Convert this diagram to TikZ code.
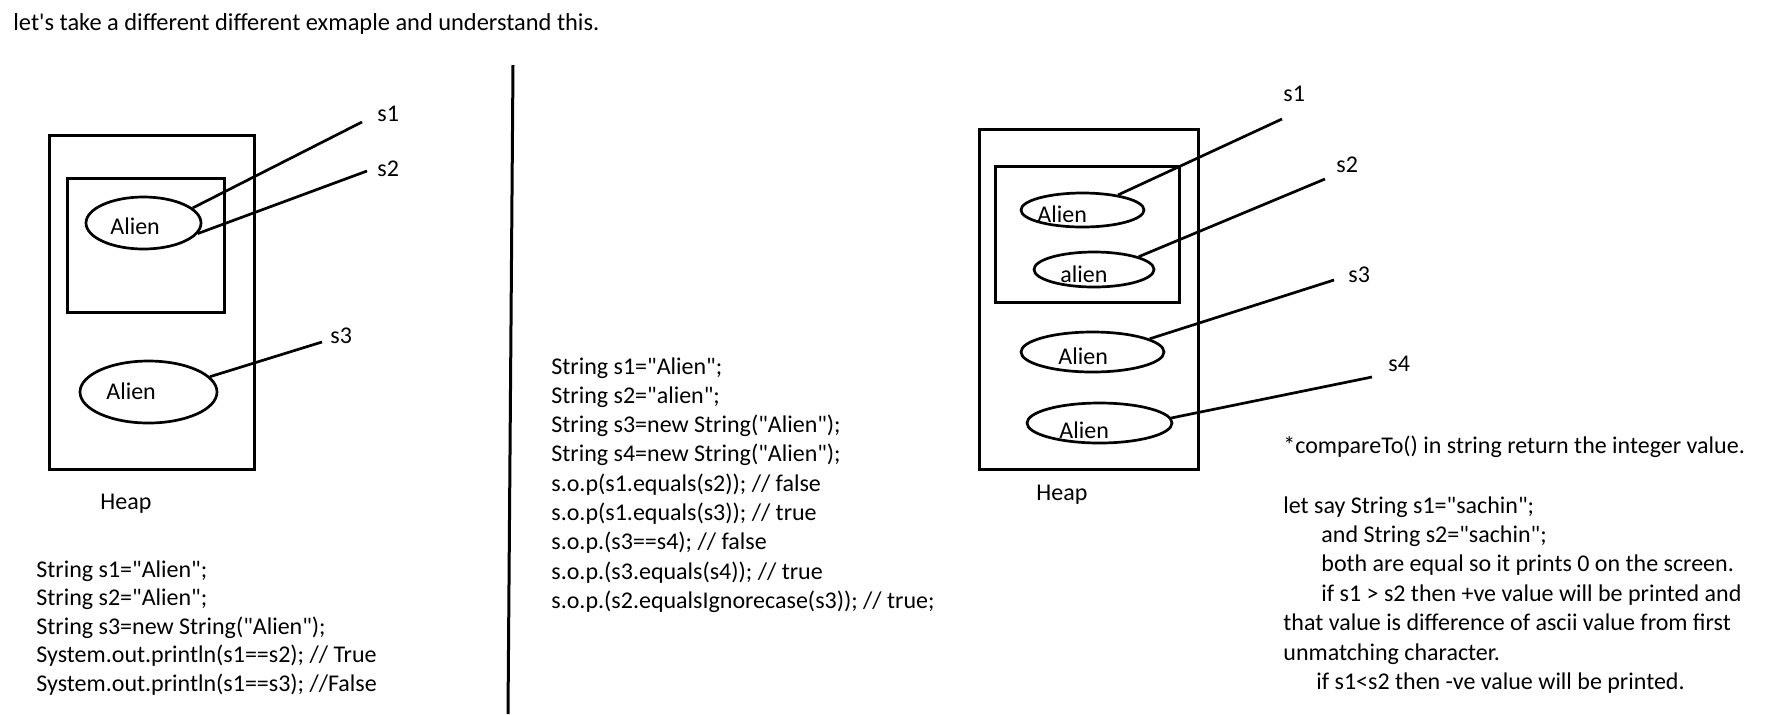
\documentclass[tikz,border=0pt]{standalone}
\usepackage{fontspec}
\setmainfont{Carlito}[Ligatures=TeXOff]
\usetikzlibrary{shapes.geometric}

\begin{document}
\begin{tikzpicture}[x=0.5pt,y=-0.5pt,
  txt/.style={anchor=base west,inner sep=0pt,font=\fontsize{12pt}{14.65pt}\selectfont},
  strobj/.style={draw,ellipse,line width=1.35pt,inner sep=0pt},
  ref/.style={line width=1.35pt},
  box/.style={line width=1.5pt}]
\useasboundingbox (0,0) rectangle (1768,714);
\node[txt,font=\fontsize{12.2pt}{14.9pt}\selectfont] (title) at (13,30) {let's take a different different exmaple and understand this.};
% divider
\coordinate (divtop) at (513,65);
\coordinate (divbot) at (508,714);
\draw[box] (divtop) -- (divbot);

% left heap
\draw[box] (49,135) rectangle (254,469);
\draw[box] (67,178) rectangle (224,312);
\node[strobj,minimum width=57.5pt,minimum height=26pt] (la) at (143.5,223) {};
\node[strobj,minimum width=68.5pt,minimum height=31pt] (lb) at (148.5,392) {};
\node[txt] (latext) at (110,234) {Alien};
\node[txt] (lbtext) at (106,399) {Alien};
\node[txt] (lheap) at (100,509) {Heap};
\node[txt] (ls1) at (377,121) {s1};
\node[txt] (ls2) at (377,176) {s2};
\node[txt] (ls3) at (330,343) {s3};
\coordinate (ls1end) at (362,122);
\coordinate (ls2end) at (367,171);
\coordinate (ls3end) at (322,342);
\draw[ref] (la.17) -- (ls1end);
\draw[ref] (la.-11) -- (ls2end);
\draw[ref] (lb.14) -- (ls3end);

% left code
\node[txt] (lc1) at (36,577) {String s1="Alien";};
\node[txt] (lc2) at (36,605.5) {String s2="Alien";};
\node[txt] (lc3) at (36,634) {String s3=new String("Alien");};
\node[txt] (lc4) at (36,662.5) {System.out.println(s1==s2); // True};
\node[txt] (lc5) at (36,691) {System.out.println(s1==s3); //False};

% middle code
\node[txt] (mc1) at (551,374) {String s1="Alien";};
\node[txt] (mc2) at (551,403.3) {String s2="alien";};
\node[txt] (mc3) at (551,432.6) {String s3=new String("Alien");};
\node[txt] (mc4) at (551,461.9) {String s4=new String("Alien");};
\node[txt] (mc5) at (551,491.2) {s.o.p(s1.equals(s2)); // false};
\node[txt] (mc6) at (551,520.5) {s.o.p(s1.equals(s3)); // true};
\node[txt] (mc7) at (551,549.8) {s.o.p.(s3==s4); // false};
\node[txt] (mc8) at (551,579.1) {s.o.p.(s3.equals(s4)); // true};
\node[txt] (mc9) at (551,608.4) {s.o.p.(s2.equalsIgnorecase(s3)); // true;};

% right heap
\draw[box] (979,129) rectangle (1198,469);
\draw[box] (995,166) rectangle (1179,302);
\node[strobj,minimum width=61.5pt,minimum height=17pt] (ra) at (1082.5,210) {};
\node[strobj,minimum width=60pt,minimum height=17.5pt] (rb) at (1094,269.5) {};
\node[strobj,minimum width=71.5pt,minimum height=20pt] (rc) at (1092.5,352) {};
\node[strobj,minimum width=72.5pt,minimum height=20pt] (rd) at (1099.5,423) {};
\node[txt] (ratext) at (1037,222) {Alien};
\node[txt] (rbtext) at (1060,282) {alien};
\node[txt] (rctext) at (1058,364) {Alien};
\node[txt] (rdtext) at (1059,438) {Alien};
\node[txt] (rheap) at (1036,500) {Heap};
\node[txt] (rs1) at (1283,101) {s1};
\node[txt] (rs2) at (1336,172) {s2};
\node[txt] (rs3) at (1348,282) {s3};
\node[txt] (rs4) at (1388,371) {s4};
\coordinate (rs1end) at (1282,119);
\coordinate (rs2end) at (1325,179);
\coordinate (rs3end) at (1334,280);
\coordinate (rs4end) at (1372,377);
\draw[ref] (ra.23) -- (rs1end);
\draw[ref] (rb.16) -- (rs2end);
\draw[ref] (rc.13) -- (rs3end);
\draw[ref] (rd.4) -- (rs4end);

% compareTo notes
\node[txt] (n1) at (1283,453) {*compareTo() in string return the integer value.};
\node[txt] (n2) at (1283,513) {let say String s1="sachin";};
\node[txt] (n3) at (1321,542.4) {and String s2="sachin";};
\node[txt] (n4) at (1321,571.8) {both are equal so it prints 0 on the screen.};
\node[txt] (n5) at (1321,601.2) {if s1 > s2 then +ve value will be printed and};
\node[txt] (n6) at (1283,630.6) {that value is difference of ascii value from first};
\node[txt] (n7) at (1283,660) {unmatching character.};
\node[txt] (n8) at (1316,689.4) {if s1<s2 then -ve value will be printed.};
\end{tikzpicture}
\end{document}
